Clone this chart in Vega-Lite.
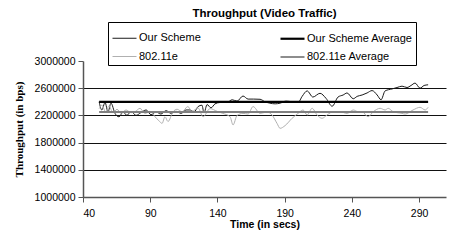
{
  "$schema": "https://vega.github.io/schema/vega-lite/v6.json",
  "width": 363,
  "height": 136,
  "autosize": {"type": "none"},
  "padding": {"left": 83, "top": 61, "right": 7, "bottom": 43},
  "background": "white",
  "config": {
    "font": "Liberation Sans",
    "view": {"stroke": null},
    "axis": {"labelFont": "Liberation Sans", "labelFontSize": 10.5, "labelColor": "black", "titleColor": "black", "domainColor": "#555", "tickColor": "#555", "domainWidth": 1.5}
  },
  "title": {"text": "Throughput (Video Traffic)", "fontSize": 11.5, "fontWeight": "bold", "font": "Liberation Sans", "anchor": "middle", "offset": 2, "color": "black"},
  "datasets": {
    "s": [
      {"t": 52, "series": "Our Scheme", "v": 2400000},
      {"t": 54, "series": "Our Scheme", "v": 2280000},
      {"t": 56.4, "series": "Our Scheme", "v": 2390000},
      {"t": 58.6, "series": "Our Scheme", "v": 2250000},
      {"t": 60.8, "series": "Our Scheme", "v": 2380000},
      {"t": 63.8, "series": "Our Scheme", "v": 2230000},
      {"t": 66.8, "series": "Our Scheme", "v": 2180000},
      {"t": 69.8, "series": "Our Scheme", "v": 2250000},
      {"t": 72.7, "series": "Our Scheme", "v": 2200000},
      {"t": 75.7, "series": "Our Scheme", "v": 2260000},
      {"t": 79.4, "series": "Our Scheme", "v": 2200000},
      {"t": 83, "series": "Our Scheme", "v": 2240000},
      {"t": 87, "series": "Our Scheme", "v": 2280000},
      {"t": 90.6, "series": "Our Scheme", "v": 2210000},
      {"t": 94.3, "series": "Our Scheme", "v": 2250000},
      {"t": 98, "series": "Our Scheme", "v": 2220000},
      {"t": 101.8, "series": "Our Scheme", "v": 2270000},
      {"t": 105.5, "series": "Our Scheme", "v": 2230000},
      {"t": 109.2, "series": "Our Scheme", "v": 2260000},
      {"t": 113, "series": "Our Scheme", "v": 2230000},
      {"t": 116.6, "series": "Our Scheme", "v": 2280000},
      {"t": 119.6, "series": "Our Scheme", "v": 2280000},
      {"t": 122.6, "series": "Our Scheme", "v": 2250000},
      {"t": 125.6, "series": "Our Scheme", "v": 2330000},
      {"t": 128.5, "series": "Our Scheme", "v": 2350000},
      {"t": 130, "series": "Our Scheme", "v": 2235000},
      {"t": 132.3, "series": "Our Scheme", "v": 2360000},
      {"t": 135.2, "series": "Our Scheme", "v": 2310000},
      {"t": 138.2, "series": "Our Scheme", "v": 2370000},
      {"t": 142, "series": "Our Scheme", "v": 2390000},
      {"t": 147, "series": "Our Scheme", "v": 2390000},
      {"t": 151, "series": "Our Scheme", "v": 2430000},
      {"t": 154.6, "series": "Our Scheme", "v": 2410000},
      {"t": 159, "series": "Our Scheme", "v": 2485000},
      {"t": 162.8, "series": "Our Scheme", "v": 2440000},
      {"t": 167, "series": "Our Scheme", "v": 2440000},
      {"t": 171.7, "series": "Our Scheme", "v": 2437000},
      {"t": 175.4, "series": "Our Scheme", "v": 2400000},
      {"t": 179, "series": "Our Scheme", "v": 2380000},
      {"t": 182.9, "series": "Our Scheme", "v": 2370000},
      {"t": 186.6, "series": "Our Scheme", "v": 2380000},
      {"t": 191, "series": "Our Scheme", "v": 2410000},
      {"t": 195.5, "series": "Our Scheme", "v": 2400000},
      {"t": 200, "series": "Our Scheme", "v": 2390000},
      {"t": 203, "series": "Our Scheme", "v": 2480000},
      {"t": 206.7, "series": "Our Scheme", "v": 2560000},
      {"t": 211, "series": "Our Scheme", "v": 2470000},
      {"t": 216.3, "series": "Our Scheme", "v": 2525000},
      {"t": 220.8, "series": "Our Scheme", "v": 2450000},
      {"t": 225.3, "series": "Our Scheme", "v": 2335000},
      {"t": 229.7, "series": "Our Scheme", "v": 2470000},
      {"t": 233.5, "series": "Our Scheme", "v": 2500000},
      {"t": 236.4, "series": "Our Scheme", "v": 2530000},
      {"t": 241, "series": "Our Scheme", "v": 2445000},
      {"t": 243.9, "series": "Our Scheme", "v": 2480000},
      {"t": 247.6, "series": "Our Scheme", "v": 2500000},
      {"t": 251.3, "series": "Our Scheme", "v": 2530000},
      {"t": 255, "series": "Our Scheme", "v": 2565000},
      {"t": 258.8, "series": "Our Scheme", "v": 2500000},
      {"t": 261.7, "series": "Our Scheme", "v": 2430000},
      {"t": 264.7, "series": "Our Scheme", "v": 2560000},
      {"t": 270, "series": "Our Scheme", "v": 2590000},
      {"t": 273.6, "series": "Our Scheme", "v": 2610000},
      {"t": 277.3, "series": "Our Scheme", "v": 2630000},
      {"t": 281, "series": "Our Scheme", "v": 2610000},
      {"t": 284, "series": "Our Scheme", "v": 2640000},
      {"t": 287, "series": "Our Scheme", "v": 2675000},
      {"t": 290.7, "series": "Our Scheme", "v": 2600000},
      {"t": 293.7, "series": "Our Scheme", "v": 2640000},
      {"t": 296.7, "series": "Our Scheme", "v": 2650000},
      {"t": 52, "series": "802.11e", "v": 2300000},
      {"t": 54, "series": "802.11e", "v": 2350000},
      {"t": 57, "series": "802.11e", "v": 2250000},
      {"t": 59.3, "series": "802.11e", "v": 2340000},
      {"t": 62.3, "series": "802.11e", "v": 2240000},
      {"t": 65.3, "series": "802.11e", "v": 2290000},
      {"t": 68.3, "series": "802.11e", "v": 2230000},
      {"t": 72, "series": "802.11e", "v": 2280000},
      {"t": 75.7, "series": "802.11e", "v": 2240000},
      {"t": 78.7, "series": "802.11e", "v": 2254000},
      {"t": 82.4, "series": "802.11e", "v": 2304000},
      {"t": 86.1, "series": "802.11e", "v": 2230000},
      {"t": 89.9, "series": "802.11e", "v": 2260000},
      {"t": 93.6, "series": "802.11e", "v": 2180000},
      {"t": 96.5, "series": "802.11e", "v": 2120000},
      {"t": 98.8, "series": "802.11e", "v": 2083000},
      {"t": 101, "series": "802.11e", "v": 2180000},
      {"t": 103.2, "series": "802.11e", "v": 2110000},
      {"t": 107, "series": "802.11e", "v": 2254000},
      {"t": 110, "series": "802.11e", "v": 2290000},
      {"t": 113.7, "series": "802.11e", "v": 2254000},
      {"t": 118, "series": "802.11e", "v": 2330000},
      {"t": 121, "series": "802.11e", "v": 2260000},
      {"t": 125.6, "series": "802.11e", "v": 2309000},
      {"t": 129.3, "series": "802.11e", "v": 2180000},
      {"t": 134.5, "series": "802.11e", "v": 2300000},
      {"t": 139.7, "series": "802.11e", "v": 2260000},
      {"t": 144, "series": "802.11e", "v": 2230000},
      {"t": 149.4, "series": "802.11e", "v": 2180000},
      {"t": 151.6, "series": "802.11e", "v": 2060000},
      {"t": 154.6, "series": "802.11e", "v": 2200000},
      {"t": 159, "series": "802.11e", "v": 2230000},
      {"t": 162.8, "series": "802.11e", "v": 2220000},
      {"t": 166.5, "series": "802.11e", "v": 2330000},
      {"t": 171.7, "series": "802.11e", "v": 2230000},
      {"t": 176.9, "series": "802.11e", "v": 2250000},
      {"t": 180.6, "series": "802.11e", "v": 2206000},
      {"t": 184.3, "series": "802.11e", "v": 2083000},
      {"t": 186.6, "series": "802.11e", "v": 2010000},
      {"t": 190.3, "series": "802.11e", "v": 2050000},
      {"t": 195.5, "series": "802.11e", "v": 2157000},
      {"t": 200, "series": "802.11e", "v": 2230000},
      {"t": 203.7, "series": "802.11e", "v": 2280000},
      {"t": 206.7, "series": "802.11e", "v": 2206000},
      {"t": 210.4, "series": "802.11e", "v": 2304000},
      {"t": 214.1, "series": "802.11e", "v": 2206000},
      {"t": 217.8, "series": "802.11e", "v": 2157000},
      {"t": 221.5, "series": "802.11e", "v": 2206000},
      {"t": 226, "series": "802.11e", "v": 2254000},
      {"t": 231.2, "series": "802.11e", "v": 2254000},
      {"t": 236.4, "series": "802.11e", "v": 2230000},
      {"t": 241, "series": "802.11e", "v": 2280000},
      {"t": 244.6, "series": "802.11e", "v": 2254000},
      {"t": 247.6, "series": "802.11e", "v": 2254000},
      {"t": 252, "series": "802.11e", "v": 2180000},
      {"t": 255.9, "series": "802.11e", "v": 2254000},
      {"t": 261, "series": "802.11e", "v": 2304000},
      {"t": 264.7, "series": "802.11e", "v": 2280000},
      {"t": 267, "series": "802.11e", "v": 2304000},
      {"t": 270.7, "series": "802.11e", "v": 2254000},
      {"t": 277.3, "series": "802.11e", "v": 2230000},
      {"t": 279.6, "series": "802.11e", "v": 2220000},
      {"t": 285.5, "series": "802.11e", "v": 2280000},
      {"t": 290.7, "series": "802.11e", "v": 2319000},
      {"t": 294.5, "series": "802.11e", "v": 2280000},
      {"t": 296.7, "series": "802.11e", "v": 2319000}
    ],
    "avg": [
      {"t": 52, "series": "Our Scheme Average", "v": 2400000},
      {"t": 296.7, "series": "Our Scheme Average", "v": 2400000},
      {"t": 52, "series": "802.11e Average", "v": 2250000},
      {"t": 296.7, "series": "802.11e Average", "v": 2250000}
    ]
  },
  "encoding": {
    "x": {"field": "t", "type": "quantitative",
      "scale": {"domain": [40, 310], "nice": false, "zero": false},
      "axis": {"values": [40, 90, 140, 190, 240, 290], "grid": false, "tickSize": 5, "labelPadding": 6, "title": "Time (in secs)", "titleFontWeight": "bold", "titleFontSize": 10.5, "titleFont": "Liberation Sans", "titlePadding": 1}},
    "y": {"field": "v", "type": "quantitative",
      "scale": {"domain": [1000000, 3000000], "nice": false, "zero": false},
      "axis": {"values": [1000000, 1400000, 1800000, 2200000, 2600000, 3000000], "format": "d", "grid": true,
        "gridColor": {"condition": {"test": "datum.value >= 3000000 || datum.value <= 1000000", "value": "transparent"}, "value": "#111"},
        "gridWidth": 1, "tickSize": 5, "labelPadding": 3, "title": "Throughput (in bps)", "titleFontWeight": "bold", "titleFontSize": 11, "titleFont": "Liberation Serif", "titlePadding": 10}},
    "color": {"field": "series", "type": "nominal",
      "scale": {"domain": ["Our Scheme", "Our Scheme Average", "802.11e", "802.11e Average"], "range": ["#1a1a1a", "#000000", "#b0b0b0", "#808080"]},
      "legend": {"title": null, "orient": "none", "legendX": 25, "legendY": -39, "columns": 2, "direction": "horizontal", "strokeColor": "black", "padding": 3, "columnPadding": 75, "rowPadding": 0, "symbolType": "stroke", "symbolSize": 576, "labelFontSize": 11, "labelFont": "Liberation Sans", "labelColor": "black", "labelOffset": 1, "fillColor": "white"}},
    "strokeWidth": {"field": "series", "type": "nominal",
      "scale": {"type": "ordinal", "domain": ["Our Scheme", "Our Scheme Average", "802.11e", "802.11e Average"], "range": [1, 2.2, 1, 1.8]},
      "legend": null}
  },
  "layer": [
    {"data": {"name": "s"}, "mark": {"type": "line", "interpolate": "monotone"}},
    {"data": {"name": "avg"}, "mark": {"type": "line"}}
  ]
}
